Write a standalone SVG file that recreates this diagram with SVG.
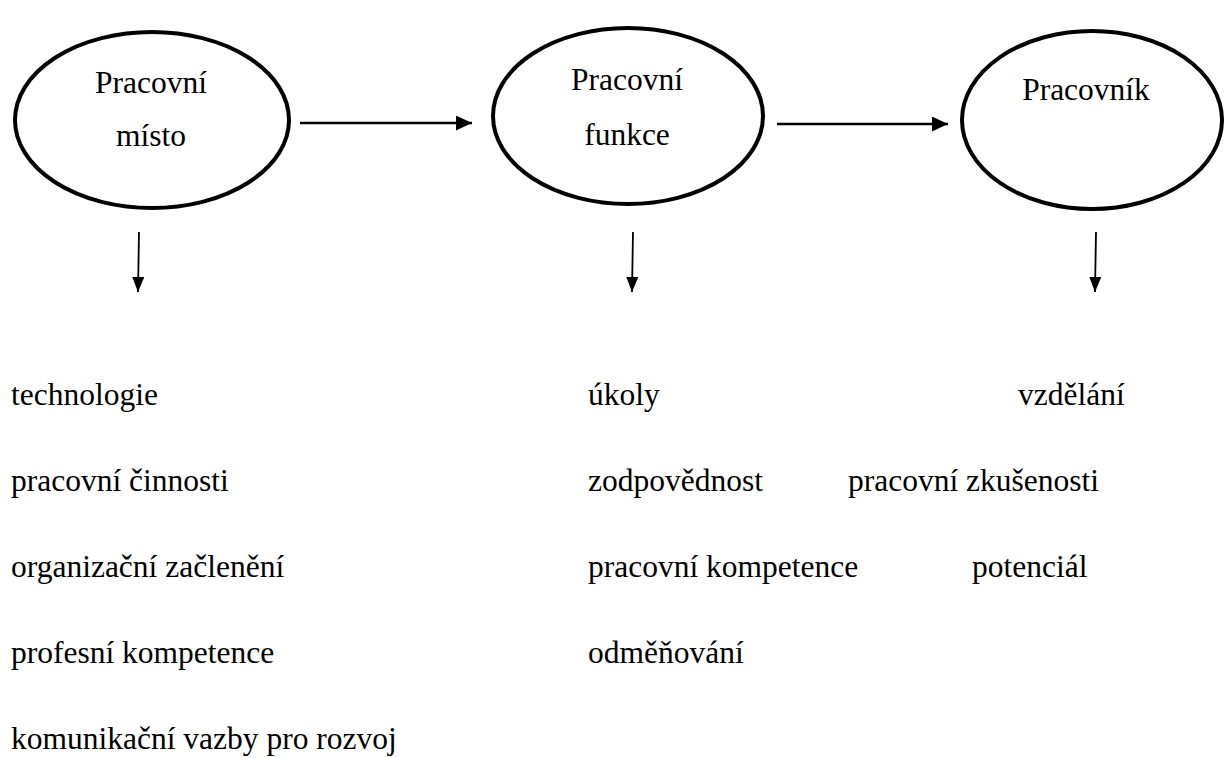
<svg xmlns="http://www.w3.org/2000/svg" width="1232" height="758" viewBox="0 0 1232 758">
<style>
.node{fill:#fff;stroke:#000;stroke-width:4}
.t{font-size:31.5px;fill:#000}
.c{text-anchor:middle}
.conn{stroke:#000;fill:none}
</style>
<defs>
<marker id="ah" viewBox="0 0 16 15" refX="16" refY="7.5" markerWidth="16" markerHeight="15" markerUnits="userSpaceOnUse" orient="auto">
<path d="M0,0 L16,7.5 L0,15 Z" fill="#000"/>
</marker>
<marker id="ahs" viewBox="0 0 15 12" refX="15" refY="6" markerWidth="15" markerHeight="12" markerUnits="userSpaceOnUse" orient="auto">
<path d="M0,0 L15,6 L0,12 Z" fill="#000"/>
</marker>
</defs>
<rect width="1232" height="758" fill="#fff"/>
<g font-family="'Liberation Serif', 'Times New Roman', Tinos, 'DejaVu Serif', serif">
<g id="node-misto">
<ellipse class="node" cx="152" cy="120" rx="137" ry="88"/>
<text class="t c" x="151" y="93">Pracovní</text>
<text class="t c" x="151" y="146">místo</text>
</g>
<g id="node-funkce">
<ellipse class="node" cx="628" cy="116" rx="135" ry="88"/>
<text class="t c" x="627" y="90">Pracovní</text>
<text class="t c" x="627" y="145">funkce</text>
</g>
<g id="node-pracovnik">
<ellipse class="node" cx="1092" cy="120" rx="130" ry="89"/>
<text class="t c" x="1086" y="100">Pracovník</text>
</g>
<g id="connectors">
<line class="conn" x1="300" y1="123" x2="472" y2="123" stroke-width="2.5" marker-end="url(#ah)"/>
<line class="conn" x1="777" y1="124" x2="948" y2="124" stroke-width="2.5" marker-end="url(#ah)"/>
<line class="conn" x1="139" y1="232" x2="138" y2="292" stroke-width="1.8" marker-end="url(#ahs)"/>
<line class="conn" x1="633" y1="232" x2="632" y2="292" stroke-width="1.8" marker-end="url(#ahs)"/>
<line class="conn" x1="1096" y1="232" x2="1095" y2="292" stroke-width="1.8" marker-end="url(#ahs)"/>
</g>
<g id="list-misto">
<text class="t" x="11" y="405">technologie</text>
<text class="t" x="11" y="491">pracovní činnosti</text>
<text class="t" x="11" y="577">organizační začlenění</text>
<text class="t" x="11" y="663">profesní kompetence</text>
<text class="t" x="11" y="749">komunikační vazby pro rozvoj</text>
</g>
<g id="list-funkce">
<text class="t" x="588" y="405">úkoly</text>
<text class="t" x="588" y="491">zodpovědnost</text>
<text class="t" x="588" y="577">pracovní kompetence</text>
<text class="t" x="588" y="663">odměňování</text>
</g>
<g id="list-pracovnik">
<text class="t" x="1018" y="405">vzdělání</text>
<text class="t" x="848" y="491">pracovní zkušenosti</text>
<text class="t" x="972" y="577">potenciál</text>
</g>
</g>
</svg>
